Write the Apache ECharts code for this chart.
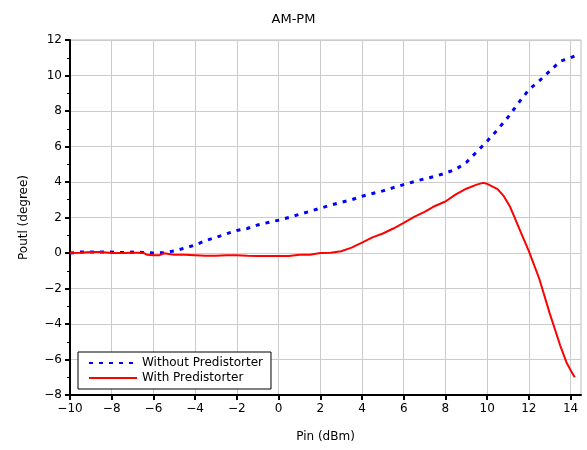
<!DOCTYPE html>
<html>
<head>
    <meta charset="utf-8">
    <title>AM-PM</title>
    <style>
        body{ margin: 0; padding: 0; }
        #container{ width: 587px; height: 450px; }
    </style>
</head>
<body>
    <div id="container"></div>
    <script src="https://cdn.jsdelivr.net/npm/echarts@6/dist/echarts.min.js"></script>
    <script type="text/javascript">
    // 数据
    var xTicks = [-10, -8, -6, -4, -2, 0, 2, 4, 6, 8, 10, 12, 14];
    var yTicks = [-8, -6, -4, -2, 0, 2, 4, 6, 8, 10, 12];

    var withoutPin = [-10, -9.5, -9, -8.5, -8, -7.5, -7, -6.5, -6, -5.5, -5, -4.5, -4, -3.5, -3, -2.5, -2, -1.5, -1, -0.5,
        0, 0.5, 1, 1.5, 2, 2.5, 3, 3.5, 4, 4.5, 5, 5.5, 6, 6.5, 7, 7.5, 8, 8.5, 9, 9.5,
        10, 10.5, 11, 11.5, 12, 12.5, 13, 13.5, 14, 14.3];
    var withoutPout = [0, 0.05, 0.05, 0.05, 0.05, 0.03, 0.05, 0.03, 0, 0.02, 0.12, 0.28, 0.45, 0.7, 0.88, 1.08, 1.27, 1.38, 1.58, 1.72,
        1.85, 2.0, 2.18, 2.35, 2.52, 2.7, 2.85, 3.0, 3.2, 3.35, 3.5, 3.68, 3.85, 4.02, 4.18, 4.32, 4.5, 4.72, 5.1, 5.7,
        6.3, 6.95, 7.65, 8.45, 9.2, 9.7, 10.25, 10.8, 11.0, 11.15];

    var withPin = [-10, -9.5, -9, -8.5, -8, -7.5, -7, -6.5, -6.3, -6, -5.7, -5.5, -5, -4.5, -4, -3.5, -3, -2.5, -2, -1.5,
        -1, -0.5, 0, 0.5, 1, 1.5, 2, 2.5, 3, 3.5, 4, 4.5, 5, 5.5, 6, 6.5, 7, 7.5, 8, 8.5,
        9, 9.5, 9.8, 10, 10.5, 10.8, 11.1, 11.3, 11.6, 12, 12.5, 13, 13.5, 13.8, 14, 14.2];
    var withPout = [0, 0.02, 0.05, 0.05, 0, 0, 0.02, 0.02, -0.1, -0.12, -0.12, -0.02, -0.1, -0.1, -0.12, -0.15, -0.15, -0.12, -0.12, -0.15,
        -0.17, -0.17, -0.17, -0.17, -0.1, -0.1, 0, 0.02, 0.1, 0.3, 0.58, 0.88, 1.1, 1.38, 1.7, 2.03, 2.32, 2.65, 2.9, 3.3,
        3.62, 3.85, 3.95, 3.9, 3.6, 3.2, 2.6, 2.05, 1.2, 0.1, -1.45, -3.4, -5.2, -6.15, -6.6, -7.0];

    function pairs(xs, ys) {
        var out = [];
        for (var i = 0; i < xs.length; i++) {
            out.push([xs[i], ys[i]]);
        }
        return out;
    }

    function minus(v) {
        return String(v).replace('-', '\u2212');
    }

    var font = 'DejaVu Sans';
    var myChart = echarts.init(document.getElementById('container'));

    var option = {
        backgroundColor: '#fff',
        animation: false,
        title: {
            text: 'AM-PM',
            left: 'center',
            top: 8,
            textStyle: { fontFamily: font, fontSize: 13, fontWeight: 'normal', color: '#000' }
        },
        legend: {
            orient: 'vertical',
            left: 78,
            top: 352,
            padding: [5, 8, 5, 10],
            itemGap: 3,
            itemWidth: 48,
            itemHeight: 10,
            borderColor: '#000',
            borderWidth: 1,
            backgroundColor: '#fff',
            itemStyle: { opacity: 0 },
            textStyle: { fontFamily: font, fontSize: 12, color: '#000' },
            data: ['Without Predistorter', 'With Predistorter']
        },
        grid: {
            left: 70,
            right: 6,
            top: 40,
            bottom: 55,
            show: true,
            borderColor: '#bbb',
            borderWidth: 1
        },
        xAxis: {
            type: 'value',
            min: -10,
            max: 14.5,
            interval: 2,
            name: 'Pin (dBm)',
            nameLocation: 'middle',
            nameGap: 36,
            nameTextStyle: { fontFamily: font, fontSize: 12, color: '#000' },
            axisLine: { onZero: false, lineStyle: { color: '#000', width: 2 } },
            axisTick: { customValues: xTicks, length: 5, lineStyle: { color: '#000', width: 2 } },
            axisLabel: {
                customValues: xTicks,
                fontFamily: font, fontSize: 12, color: '#000', margin: 8,
                formatter: minus
            },
            splitLine: { show: true, lineStyle: { color: '#ccc', width: 1 } }
        },
        yAxis: {
            type: 'value',
            min: -8,
            max: 12,
            interval: 2,
            name: 'Poutl (degree)',
            nameLocation: 'middle',
            nameGap: 40,
            nameTextStyle: { fontFamily: font, fontSize: 12, color: '#000' },
            axisLine: { onZero: false, lineStyle: { color: '#000', width: 2 } },
            axisTick: { length: 5, lineStyle: { color: '#000', width: 2 } },
            minorTick: { show: true, splitNumber: 2, length: 3, lineStyle: { color: '#000', width: 1 } },
            axisLabel: {
                customValues: yTicks,
                fontFamily: font, fontSize: 12, color: '#000', margin: 8,
                formatter: minus
            },
            splitLine: { show: true, lineStyle: { color: '#ccc', width: 1 } }
        },
        series: [
            {
                name: 'Without Predistorter',
                type: 'line',
                showSymbol: false,
                symbol: 'none',
                color: '#0000ff',
                lineStyle: { color: '#0000ff', width: 3, type: [4, 6] },
                data: pairs(withoutPin, withoutPout)
            },
            {
                name: 'With Predistorter',
                type: 'line',
                showSymbol: false,
                symbol: 'none',
                color: '#ff0000',
                lineStyle: { color: '#ff0000', width: 2 },
                data: pairs(withPin, withPout)
            }
        ]
    };

    myChart.setOption(option, true);
    </script>
</body>
</html>
